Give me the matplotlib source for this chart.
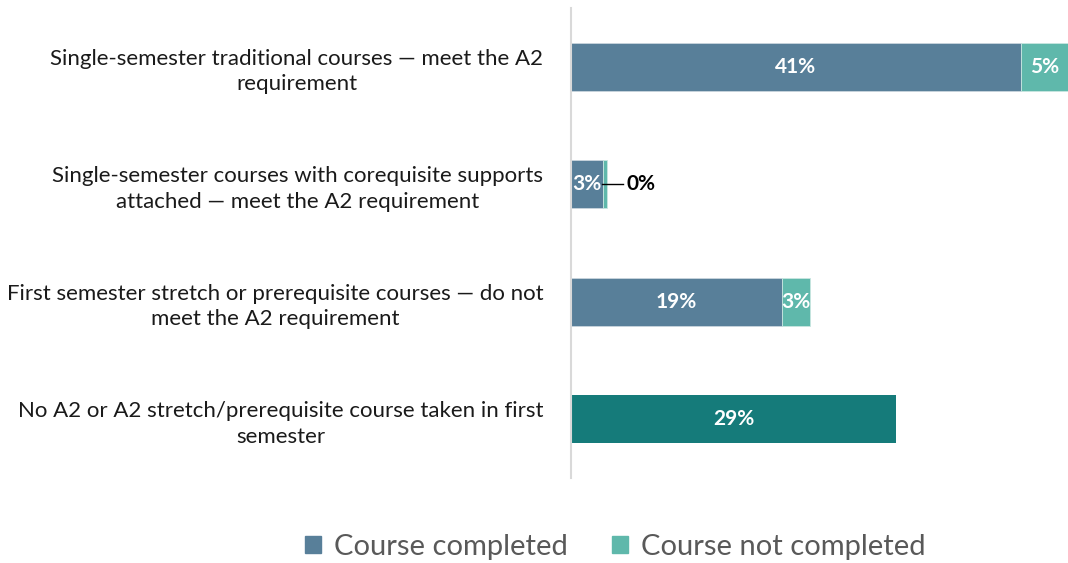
import matplotlib.pyplot as plt
from matplotlib.patches import Patch

plt.rcParams['font.family'] = ['Lato', 'DejaVu Sans']

categories = [
    "Single-semester traditional courses \u2014 meet the A2\nrequirement",
    "Single-semester courses with corequisite supports\nattached \u2014 meet the A2 requirement",
    "First semester stretch or prerequisite courses \u2014 do not\nmeet the A2 requirement",
    "No A2 or A2 stretch/prerequisite course taken in first\nsemester",
]
completed = [41.0, 2.9, 19.2, None]
not_completed = [4.3, 0.4, 2.6, None]
no_course = [None, None, None, 29.6]
labels_completed = ["41%", "3%", "19%", None]
labels_not = ["5%", "0%", "3%", None]
labels_none = [None, None, None, "29%"]

c_done = '#587f99'
c_not = '#5fb8ab'
c_none = '#157b7a'

fig = plt.figure(figsize=(10.68, 5.63), dpi=100)
ax = fig.add_axes([571 / 1068, 1 - 478 / 563, 497 / 1068, 470 / 563])

ypos = list(range(len(categories)))
h = 0.41
fs = 15
for i in ypos:
    if completed[i] is not None:
        ax.barh(i, completed[i], height=h, color=c_done, edgecolor='#c9d5de', linewidth=0.6)
        ax.barh(i, not_completed[i], left=completed[i], height=h, color=c_not,
                edgecolor='#c9e6e0', linewidth=0.6)
        ax.text(completed[i] / 2, i, labels_completed[i], ha='center', va='center',
                color='white', fontsize=fs, fontweight='bold')
        if i == 1:
            end = completed[i] + not_completed[i]
            ax.plot([completed[i] - 0.1, end + 1.4], [i, i], color='black', lw=1)
            ax.text(end + 1.8, i, labels_not[i], ha='left', va='center',
                    color='black', fontsize=fs, fontweight='bold')
        else:
            ax.text(completed[i] + not_completed[i] / 2, i, labels_not[i], ha='center',
                    va='center', color='white', fontsize=fs, fontweight='bold')
    if no_course[i] is not None:
        ax.barh(i, no_course[i], height=h, color=c_none)
        ax.text(no_course[i] / 2, i, labels_none[i], ha='center', va='center',
                color='white', fontsize=fs, fontweight='bold')

ax.set_xlim(0, 45.3)
ax.set_ylim(3.5, -0.5)
ax.set_yticks(ypos)
ax.set_yticklabels(categories, fontsize=16, color='#1a1a1a', multialignment='center',
                   linespacing=1.35)
ax.tick_params(axis='y', length=0, pad=20)
ax.set_xticks([])
for s in ['top', 'right', 'bottom']:
    ax.spines[s].set_visible(False)
ax.spines['left'].set_color('#d9d9d9')
ax.spines['left'].set_linewidth(1.5)

handles = [Patch(color=c_done, label='Course completed'),
           Patch(color=c_not, label='Course not completed')]
fig.legend(handles=handles, loc='center', bbox_to_anchor=(615 / 1068, 1 - 547 / 563),
           ncol=2, frameon=False, fontsize=21, labelcolor='#595959',
           handlelength=0.55, handleheight=0.55, handletextpad=0.45, columnspacing=1.5)

fig.savefig('out.png', dpi=100)
